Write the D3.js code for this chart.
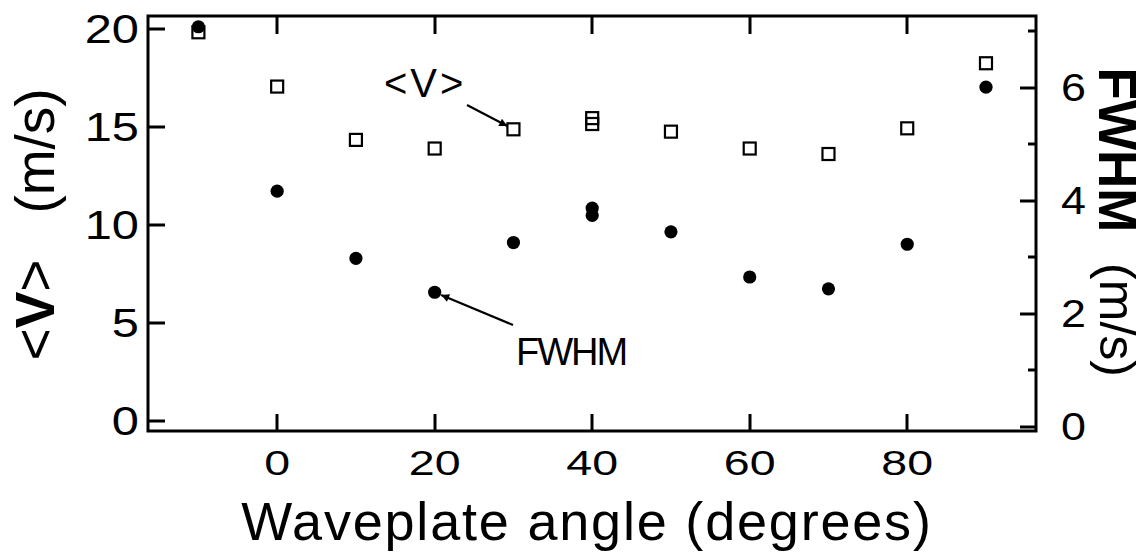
<!DOCTYPE html>
<html>
<head>
<meta charset="utf-8">
<script src="https://cdn.jsdelivr.net/npm/d3@7"></script>
<style>
  html, body { margin: 0; padding: 0; background: #fff; }
  svg { display: block; font-family: "Liberation Sans", Arial, Helvetica, sans-serif; }
</style>
</head>
<body>
<svg id="chart" width="1147" height="560"></svg>
<script>
// Waveplate angle (degrees)
const angles = [-10, 0, 10, 20, 30, 40, 40, 50, 60, 70, 80, 90];
// Mean velocity <V> (m/s), left axis
const meanV = [19.83, 17.06, 14.34, 13.9, 14.88, 15.45, 15.15, 14.76, 13.9, 13.62, 14.93, 18.25];
// Velocity width FWHM (m/s), right axis
const fwhm = [7.08, 4.17, 2.98, 2.38, 3.26, 3.87, 3.74, 3.45, 2.65, 2.44, 3.23, 6.01];

const xTicks = [0, 20, 40, 60, 80];
const vTicks = [0, 5, 10, 15, 20];
const fwhmMajor = [0, 2, 4, 6];
const fwhmMinor = [1, 3, 5, 7];

const xDomain = [-16.4, 96.35];
const vDomain = [-0.51, 20.66];
const fwhmDomain = [-0.076, 7.27];

const svg = d3.select("#chart");
const L = 148, R = 1036, T = 16, B = 431;

const x = d3.scaleLinear().domain(xDomain).range([L, R]);
const yV = d3.scaleLinear().domain(vDomain).range([B, T]);
const yF = d3.scaleLinear().domain(fwhmDomain).range([B, T]);

const ink = "#000";
const px = v => Math.round(v);

// Plot frame
svg.append("rect")
  .attr("x", L).attr("y", T).attr("width", R - L).attr("height", B - T)
  .attr("fill", "none").attr("stroke", ink).attr("stroke-width", 3);

// Inward tick marks, drawn as filled bars
const tw = 3;
const ticks = svg.append("g").attr("fill", ink);
ticks.selectAll(".tb").data(xTicks).join("rect").attr("class", "tb")
  .attr("x", d => px(x(d)) - tw / 2).attr("y", B - 17).attr("width", tw).attr("height", 17);
ticks.selectAll(".tt").data(xTicks).join("rect").attr("class", "tt")
  .attr("x", d => px(x(d)) - tw / 2).attr("y", T).attr("width", tw).attr("height", 18);
ticks.selectAll(".tl").data(vTicks).join("rect").attr("class", "tl")
  .attr("x", L).attr("y", d => px(yV(d)) - tw / 2).attr("width", 17).attr("height", tw);
ticks.selectAll(".tr").data(fwhmMajor).join("rect").attr("class", "tr")
  .attr("x", R - 16).attr("y", d => px(yF(d)) - tw / 2).attr("width", 16).attr("height", tw);
ticks.selectAll(".tm").data(fwhmMinor).join("rect").attr("class", "tm")
  .attr("x", R - 8).attr("y", d => px(yF(d)) - tw / 2).attr("width", 8).attr("height", tw);

// Tick labels (wide digits)
svg.append("g").selectAll("text").data(xTicks).join("text")
  .attr("transform", d => `translate(${x(d)},475) scale(1.33,1)`)
  .attr("text-anchor", "middle")
  .attr("font-size", 35)
  .attr("fill", ink)
  .text(d => d);

svg.append("g").selectAll("text").data(vTicks).join("text")
  .attr("transform", d => `translate(139,${yV(d) + 14}) scale(1.22,1)`)
  .attr("text-anchor", "end")
  .attr("font-size", 40)
  .attr("fill", ink)
  .text(d => d);

svg.append("g").selectAll("text").data(fwhmMajor).join("text")
  .attr("transform", d => `translate(1061,${yF(d) + 13.5}) scale(1.18,1)`)
  .attr("text-anchor", "start")
  .attr("font-size", 38)
  .attr("fill", ink)
  .text(d => d);

// Axis titles
svg.append("text")
  .attr("x", 587).attr("y", 540)
  .attr("text-anchor", "middle")
  .attr("font-size", 54)
  .attr("letter-spacing", 1.8)
  .attr("fill", ink)
  .text("Waveplate angle (degrees)");

const leftTitle1 = svg.append("text")
  .attr("transform", "translate(54,310) rotate(-90)")
  .attr("text-anchor", "middle")
  .attr("font-size", 55)
  .attr("fill", ink);
leftTitle1.append("tspan").text("<");
leftTitle1.append("tspan").attr("font-weight", "bold").text("V");
leftTitle1.append("tspan").text(">");

svg.append("text")
  .attr("transform", "translate(54,151) rotate(-90)")
  .attr("text-anchor", "middle")
  .attr("font-size", 55)
  .attr("fill", ink)
  .text("(m/s)");

svg.append("text")
  .attr("transform", "translate(1099,150) rotate(90)")
  .attr("text-anchor", "middle")
  .attr("font-size", 53)
  .attr("font-weight", "bold")
  .attr("fill", ink)
  .text("FWHM");

svg.append("text")
  .attr("transform", "translate(1100,320) rotate(90)")
  .attr("text-anchor", "middle")
  .attr("font-size", 50)
  .attr("fill", ink)
  .text("(m/s)");

// Data marks: open squares for <V>, filled circles for FWHM
const sq = 12;
svg.append("g").selectAll("rect").data(angles).join("rect")
  .attr("x", (d, i) => x(d) - sq / 2)
  .attr("y", (d, i) => yV(meanV[i]) - sq / 2)
  .attr("width", sq).attr("height", sq)
  .attr("fill", "none")
  .attr("stroke", ink)
  .attr("stroke-width", 2.2);

svg.append("g").selectAll("circle").data(angles).join("circle")
  .attr("cx", d => x(d))
  .attr("cy", (d, i) => yF(fwhm[i]))
  .attr("r", 6.6)
  .attr("fill", ink);

// Annotation arrows
const defs = svg.append("defs");
defs.append("marker")
  .attr("id", "head")
  .attr("viewBox", "0 0 10 10")
  .attr("refX", 10).attr("refY", 5)
  .attr("markerWidth", 13).attr("markerHeight", 8)
  .attr("markerUnits", "userSpaceOnUse")
  .attr("orient", "auto")
  .append("path").attr("d", "M0,0 L10,5 L0,10 z").attr("fill", ink);

function arrow(sx, sy, cx, cy, gap) {
  const dx = cx - sx, dy = cy - sy, len = Math.hypot(dx, dy);
  const ex = cx - dx / len * gap, ey = cy - dy / len * gap;
  svg.append("line")
    .attr("x1", sx).attr("y1", sy).attr("x2", ex).attr("y2", ey)
    .attr("stroke", ink).attr("stroke-width", 2.2)
    .attr("marker-end", "url(#head)");
}

const vIdx = 4;   // 30 degrees
const fIdx = 3;   // 20 degrees
arrow(467, 105, x(angles[vIdx]), yV(meanV[vIdx]), 7);
arrow(513, 325, x(angles[fIdx]), yF(fwhm[fIdx]), 7);

svg.append("text")
  .attr("x", 384).attr("y", 97)
  .attr("font-size", 40)
  .attr("letter-spacing", 3)
  .attr("fill", ink)
  .text("<V>");

svg.append("text")
  .attr("x", 516).attr("y", 365)
  .attr("font-size", 38)
  .attr("letter-spacing", -2)
  .attr("fill", ink)
  .text("FWHM");
</script>
</body>
</html>
